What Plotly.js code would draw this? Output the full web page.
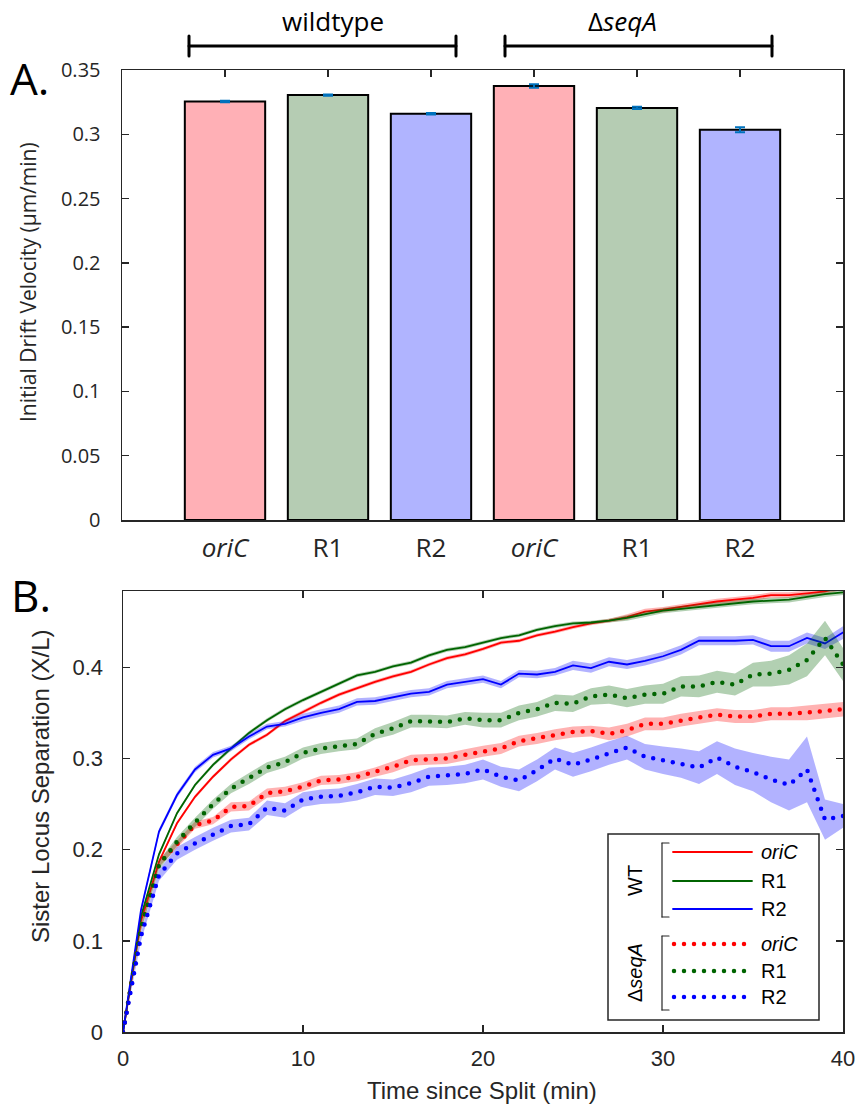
<!DOCTYPE html>
<html>
<head>
<meta charset="utf-8">
<script src="https://cdn.plot.ly/plotly-3.0.1.min.js"></script>
<style>
html,body{margin:0;padding:0;background:#fff;}
#chart{width:856px;height:1109px;}
.scatterlayer .js-line{stroke-linecap:round !important;}
.shapelayer path{stroke-linecap:round;}
</style>
</head>
<body>
<div id="chart"></div>
<script>
// ---------- Panel A data ----------
const barLabels = ['<i>oriC</i>', 'R1', 'R2', '<i>oriC</i>', 'R1', 'R2'];
const barPositions = [1, 2, 3, 4, 5, 6];
const barValues = [0.3255, 0.3305, 0.3160, 0.3375, 0.3205, 0.3035];
const barErrors = [0.0005, 0.0005, 0.0006, 0.0014, 0.0009, 0.0019];
const barColors = ['#ffb0b6', '#b5ccb3', '#b0b4ff', '#ffb0b6', '#b5ccb3', '#b0b4ff'];
const groupLabels = ['wildtype', 'Δ<i>seqA</i>'];

// ---------- Panel B data ----------
const timeMin = [0,1,2,3,4,5,6,7,8,9,10,11,12,13,14,15,16,17,18,19,20,21,22,23,24,25,26,27,28,29,30,31,32,33,34,35,36,37,38,39,40];

const wtOriC = [0,0.122,0.187,0.229,0.258,0.280,0.299,0.315,0.326,0.341,0.351,0.361,0.370,0.377,0.384,0.390,0.395,0.403,0.410,0.414,0.420,0.427,0.429,0.435,0.439,0.444,0.448,0.451,0.455,0.461,0.463,0.466,0.469,0.472,0.474,0.476,0.479,0.479,0.481,0.483,0.488];
const wtR1 = [0,0.127,0.195,0.240,0.271,0.293,0.311,0.328,0.342,0.354,0.364,0.373,0.382,0.391,0.395,0.401,0.405,0.413,0.419,0.422,0.427,0.432,0.435,0.441,0.445,0.448,0.449,0.451,0.454,0.458,0.462,0.464,0.466,0.468,0.470,0.472,0.473,0.474,0.477,0.480,0.482];
const wtR2 = [0,0.134,0.220,0.260,0.288,0.304,0.311,0.324,0.335,0.338,0.345,0.350,0.354,0.362,0.363,0.367,0.371,0.373,0.381,0.384,0.387,0.381,0.393,0.392,0.395,0.402,0.399,0.406,0.403,0.407,0.412,0.419,0.429,0.429,0.429,0.430,0.423,0.423,0.432,0.426,0.438];
const sqOriC = [0,0.115,0.185,0.206,0.227,0.232,0.247,0.248,0.262,0.264,0.269,0.276,0.277,0.280,0.285,0.291,0.298,0.299,0.300,0.304,0.308,0.311,0.319,0.322,0.326,0.329,0.330,0.327,0.331,0.338,0.338,0.342,0.345,0.348,0.346,0.346,0.349,0.349,0.350,0.352,0.354];
const sqR1 = [0,0.115,0.183,0.209,0.230,0.250,0.267,0.278,0.290,0.296,0.306,0.311,0.314,0.316,0.327,0.333,0.341,0.341,0.340,0.344,0.342,0.342,0.350,0.354,0.361,0.360,0.368,0.370,0.366,0.370,0.371,0.379,0.379,0.384,0.381,0.392,0.393,0.397,0.408,0.432,0.403];
const sqR2 = [0,0.105,0.172,0.196,0.207,0.217,0.226,0.228,0.246,0.243,0.255,0.258,0.259,0.263,0.269,0.268,0.273,0.280,0.281,0.283,0.288,0.280,0.276,0.287,0.300,0.293,0.299,0.306,0.312,0.302,0.298,0.295,0.290,0.301,0.291,0.285,0.277,0.271,0.288,0.233,0.237];

// half-widths of the shaded bands
const errWtOriC = [0,0.002,0.002,0.002,0.002,0.002,0.002,0.002,0.002,0.002,0.002,0.002,0.002,0.002,0.002,0.002,0.002,0.002,0.002,0.002,0.002,0.002,0.002,0.002,0.002,0.002,0.002,0.002,0.003,0.003,0.003,0.003,0.003,0.003,0.003,0.003,0.003,0.003,0.003,0.003,0.003];
const errWtR1 = [0,0.002,0.002,0.002,0.002,0.002,0.002,0.002,0.002,0.002,0.002,0.002,0.002,0.002,0.002,0.002,0.002,0.002,0.002,0.002,0.002,0.002,0.002,0.002,0.002,0.002,0.002,0.002,0.003,0.003,0.003,0.003,0.003,0.003,0.003,0.003,0.003,0.003,0.003,0.003,0.003];
const errWtR2 = [0,0.003,0.003,0.003,0.003,0.003,0.003,0.003,0.003,0.003,0.004,0.004,0.004,0.004,0.004,0.004,0.004,0.004,0.004,0.004,0.004,0.004,0.004,0.004,0.004,0.005,0.005,0.005,0.005,0.005,0.005,0.005,0.005,0.005,0.005,0.005,0.006,0.006,0.006,0.006,0.007];
const errSqOriC = [0,0.004,0.004,0.004,0.004,0.004,0.005,0.005,0.005,0.005,0.005,0.005,0.005,0.005,0.005,0.006,0.006,0.006,0.006,0.006,0.006,0.006,0.006,0.006,0.006,0.006,0.006,0.007,0.007,0.007,0.007,0.007,0.007,0.007,0.007,0.007,0.007,0.007,0.008,0.008,0.008];
const errSqR1 = [0,0.004,0.005,0.005,0.005,0.005,0.005,0.006,0.006,0.006,0.006,0.006,0.006,0.006,0.006,0.007,0.007,0.007,0.007,0.007,0.008,0.008,0.008,0.008,0.009,0.009,0.009,0.010,0.010,0.010,0.011,0.011,0.012,0.012,0.012,0.013,0.014,0.016,0.018,0.019,0.018];
const errSqR2 = [0,0.005,0.006,0.007,0.007,0.007,0.007,0.007,0.008,0.008,0.008,0.008,0.008,0.009,0.009,0.009,0.010,0.010,0.010,0.010,0.011,0.011,0.012,0.012,0.012,0.013,0.013,0.013,0.013,0.014,0.015,0.016,0.018,0.018,0.020,0.021,0.025,0.028,0.036,0.022,0.013];

const seriesNames = ['<i>oriC</i>', 'R1', 'R2'];
const legendGroups = ['WT', 'Δ<i>seqA</i>'];
const xTicksB = [0, 10, 20, 30, 40];
const yTicksB = [0, 0.1, 0.2, 0.3, 0.4];
const yTicksA = [0, 0.05, 0.1, 0.15, 0.2, 0.25, 0.3, 0.35];

// ---------- styles ----------
const AX = '#262626';
const fontA = 'Open Sans, Liberation Sans, sans-serif';
const fontB = 'Liberation Sans, Arial, sans-serif';
const W = 856, H = 1109;
const px = x => x / W;
const py = y => 1 - y / H;

const lineColors = ['#ff0000', '#006400', '#0000ff'];
const bandColors = ['rgba(255,0,0,0.3)', 'rgba(0,100,0,0.3)', 'rgba(0,0,255,0.3)'];

const traces = [];
traces.push({
  type: 'bar', x: barPositions, y: barValues, width: 0.78,
  marker: {color: barColors, line: {color: '#000', width: 2}},
  error_y: {type: 'data', array: barErrors, visible: true, color: '#0072BD', thickness: 2, width: 5},
  xaxis: 'x', yaxis: 'y', hoverinfo: 'skip', showlegend: false
});

function addSeries(vals, errs, idx, dotted) {
  const upper = vals.map((v, i) => v + errs[i]);
  const lower = vals.map((v, i) => v - errs[i]);
  traces.push({
    type: 'scatter', mode: 'lines',
    x: timeMin.concat(timeMin.slice().reverse()),
    y: upper.concat(lower.slice().reverse()),
    fill: 'toself', fillcolor: bandColors[idx], line: {width: 0},
    xaxis: 'x2', yaxis: 'y2', hoverinfo: 'skip', showlegend: false
  });
  traces.push({
    type: 'scatter', mode: 'lines', x: timeMin, y: vals,
    line: dotted ? {color: lineColors[idx], width: 4.5, dash: '0px,10px'} : {color: lineColors[idx], width: 1.8},
    xaxis: 'x2', yaxis: 'y2', hoverinfo: 'skip', showlegend: false
  });
}
addSeries(wtOriC, errWtOriC, 0, false);
addSeries(wtR1, errWtR1, 1, false);
addSeries(wtR2, errWtR2, 2, false);
addSeries(sqOriC, errSqOriC, 0, true);
addSeries(sqR1, errSqR1, 1, true);
addSeries(sqR2, errSqR2, 2, true);

const shapes = [];
const annotations = [];

// group brackets above panel A
const brackets = [[189, 456], [505, 772]];
const groupTextX = [333, 622];
brackets.forEach((b, i) => {
  shapes.push({type: 'line', xref: 'paper', yref: 'paper', x0: px(b[0]), x1: px(b[1]), y0: py(46), y1: py(46), line: {color: '#000', width: 3}});
  shapes.push({type: 'line', xref: 'paper', yref: 'paper', x0: px(b[0]), x1: px(b[0]), y0: py(36), y1: py(56), line: {color: '#000', width: 3}});
  shapes.push({type: 'line', xref: 'paper', yref: 'paper', x0: px(b[1]), x1: px(b[1]), y0: py(36), y1: py(56), line: {color: '#000', width: 3}});
  annotations.push({xref: 'paper', yref: 'paper', x: px(groupTextX[i]), y: py(21), text: groupLabels[i], showarrow: false,
    xanchor: 'center', yanchor: 'middle', font: {family: fontA, size: 26, color: '#000'}});
});

// panel letters
annotations.push({xref: 'paper', yref: 'paper', x: px(30), y: py(78), text: 'A.', showarrow: false, xanchor: 'center', yanchor: 'middle', font: {family: fontA, size: 44, color: '#000'}});
annotations.push({xref: 'paper', yref: 'paper', x: px(31), y: py(595), text: 'B.', showarrow: false, xanchor: 'center', yanchor: 'middle', font: {family: fontA, size: 44, color: '#000'}});

// axis titles
annotations.push({xref: 'paper', yref: 'paper', x: px(28), y: py(282), text: 'Initial Drift Velocity (μm/min)', textangle: -90, showarrow: false, xanchor: 'center', yanchor: 'middle', font: {family: fontA, size: 21, color: AX}});
annotations.push({xref: 'paper', yref: 'paper', x: px(40), y: py(786), text: 'Sister Locus Separation (X/L)', textangle: -90, showarrow: false, xanchor: 'center', yanchor: 'middle', font: {family: fontB, size: 24, color: AX}});
annotations.push({xref: 'paper', yref: 'paper', x: px(482), y: py(1090), text: 'Time since Split (min)', showarrow: false, xanchor: 'center', yanchor: 'middle', font: {family: fontB, size: 24, color: AX}});

// legend (panel B)
shapes.push({type: 'rect', xref: 'paper', yref: 'paper', x0: px(608), x1: px(819), y0: py(834), y1: py(1020), line: {color: AX, width: 1.5}, fillcolor: '#fff', layer: 'above'});
const legendRowsY = [[852, 881, 909], [944, 971, 997]];
const legendBr = [[843, 917], [936, 1010]];
const legendGroupY = [881, 973];
legendRowsY.forEach((rows, g) => {
  const br = legendBr[g];
  shapes.push({type: 'line', xref: 'paper', yref: 'paper', x0: px(662), x1: px(662), y0: py(br[0]), y1: py(br[1]), line: {color: AX, width: 1.2}});
  shapes.push({type: 'line', xref: 'paper', yref: 'paper', x0: px(662), x1: px(669), y0: py(br[0]), y1: py(br[0]), line: {color: AX, width: 1.2}});
  shapes.push({type: 'line', xref: 'paper', yref: 'paper', x0: px(662), x1: px(669), y0: py(br[1]), y1: py(br[1]), line: {color: AX, width: 1.2}});
  annotations.push({xref: 'paper', yref: 'paper', x: px(635), y: py(legendGroupY[g]), text: legendGroups[g], textangle: -90, showarrow: false, xanchor: 'center', yanchor: 'middle', font: {family: fontB, size: 20, color: '#000'}});
  rows.forEach((yy, k) => {
    const ln = g === 0 ? {color: lineColors[k], width: 1.8} : {color: lineColors[k], width: 4.5, dash: '0px,10px'};
    shapes.push({type: 'line', xref: 'paper', yref: 'paper', x0: px(g === 0 ? 673 : 674), x1: px(752), y0: py(yy), y1: py(yy), line: ln});
    annotations.push({xref: 'paper', yref: 'paper', x: px(759), y: py(yy), text: seriesNames[k], showarrow: false, xanchor: 'left', yanchor: 'middle', font: {family: fontB, size: 20, color: '#000'}});
  });
});

const commonAxis = {showline: true, linecolor: AX, linewidth: 1.5, mirror: 'ticks', ticks: 'inside', ticklen: 7, tickwidth: 1.3, tickcolor: AX, showgrid: false, zeroline: false, fixedrange: true};

const layout = {
  width: W, height: H, margin: {l: 0, r: 0, t: 0, b: 0},
  paper_bgcolor: '#fff', plot_bgcolor: '#fff', showlegend: false,
  xaxis: Object.assign({}, commonAxis, {domain: [px(122), px(843)], anchor: 'y', range: [0, 7], tickmode: 'array', tickvals: barPositions, ticktext: barLabels,
    tickfont: {family: fontA, size: 26, color: AX}, ticklabelstandoff: 4, layer: 'below traces'}),
  yaxis: Object.assign({}, commonAxis, {domain: [py(520), py(70)], anchor: 'x', range: [0, 0.35], tickmode: 'array', tickvals: yTicksA,
    tickfont: {family: fontA, size: 20, color: AX}, ticklabelstandoff: 16, layer: 'below traces'}),
  xaxis2: Object.assign({}, commonAxis, {domain: [px(123), px(843)], anchor: 'y2', range: [0, 40], tickmode: 'array', tickvals: xTicksB,
    tickfont: {family: fontB, size: 22, color: AX}, ticklabelstandoff: 6}),
  yaxis2: Object.assign({}, commonAxis, {domain: [py(1032.3), py(591)], anchor: 'x2', range: [0, 0.4835], tickmode: 'array', tickvals: yTicksB,
    tickfont: {family: fontB, size: 22, color: AX}, ticklabelstandoff: 14}),
  shapes: shapes, annotations: annotations
};

Plotly.newPlot('chart', traces, layout, {staticPlot: true, displayModeBar: false});
</script>
</body>
</html>
